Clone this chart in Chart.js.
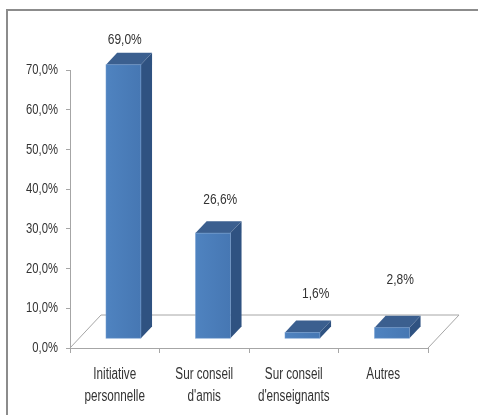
<!DOCTYPE html>
<html>
<head>
<meta charset="utf-8">
<script src="https://cdn.jsdelivr.net/npm/chart.js@4.4.1/dist/chart.umd.min.js"></script>
<style>
html,body{margin:0;padding:0;background:#fff;}
#wrap{width:478px;height:415px;position:relative;}
</style>
</head>
<body>
<div id="wrap"><canvas id="c" width="478" height="415"></canvas></div>
<script>
// ---- data ----
const categories = [["Initiative","personnelle"],["Sur conseil","d'amis"],["Sur conseil","d'enseignants"],["Autres"]];
const values = [69.0, 26.6, 1.6, 2.8];
const yTickMax = 70;
const yTickStep = 10;

const FONT = "'Liberation Sans','Arial',sans-serif";
const TEXT = '#333333';
const AXIS = '#a6a6a6';

const fmt = v => v.toFixed(1).replace('.', ',') + '%';

// condensed text (reference uses a narrow face)
function narrowText(ctx, str, x, y, size, sx, align) {
  ctx.save();
  ctx.font = size + 'px ' + FONT;
  ctx.fillStyle = TEXT;
  ctx.textAlign = align;
  ctx.textBaseline = 'middle';
  ctx.translate(x, y);
  ctx.scale(sx, 1);
  ctx.fillText(str, 0, 0);
  ctx.restore();
}

const frame3d = {
  id: 'frame3d',
  beforeDraw(chart) {
    const ctx = chart.ctx;
    ctx.save();
    ctx.fillStyle = '#fff';
    ctx.fillRect(0, 0, chart.width, chart.height);
    ctx.strokeStyle = '#8c8c8c';
    ctx.lineWidth = 2;
    ctx.beginPath();
    ctx.moveTo(7, chart.height + 2);
    ctx.lineTo(7, 10);
    ctx.lineTo(chart.width + 2, 10);
    ctx.stroke();
    const a = chart.chartArea;
    const d = chart.options.plugins.frame3d.depth;
    ctx.strokeStyle = AXIS;
    ctx.lineWidth = 1;
    ctx.beginPath();
    ctx.moveTo(a.left, a.bottom);
    ctx.lineTo(a.left + d.x, a.bottom + d.y);
    ctx.lineTo(a.right + d.x, a.bottom + d.y);
    ctx.lineTo(a.right, a.bottom);
    ctx.stroke();
    ctx.restore();
  },
  afterDraw(chart) {
    const ctx = chart.ctx;
    const o = chart.options.plugins.frame3d;
    const ys = chart.scales.y, xs = chart.scales.x;
    ys.ticks.forEach(t => {
      narrowText(ctx, fmt(t.value), ys.right - 12, ys.getPixelForValue(t.value), 15, 0.75, 'right');
    });
    categories.forEach((lab, i) => {
      const x = xs.getPixelForTick(i);
      lab.forEach((line, k) => {
        narrowText(ctx, line, x, xs.top + o.xLabelTop + k * o.xLabelLine, 16, 0.73, 'center');
      });
    });
  },
  afterDatasetsDraw(chart) {
    const o = chart.options.plugins.frame3d;
    const d = o.depth;
    const fx = d.x * o.front, fy = d.y * o.front;
    const bx = d.x * (o.back - o.front), by = d.y * (o.back - o.front);
    const ctx = chart.ctx;
    const meta = chart.getDatasetMeta(0);
    ctx.save();
    meta.data.forEach((bar, i) => {
      const p = bar.getProps(['x', 'y', 'base', 'width'], true);
      const l = p.x - p.width / 2 + fx, r = p.x + p.width / 2 + fx;
      const t = p.y + fy, b = p.base + fy;
      ctx.fillStyle = o.side;
      ctx.beginPath();
      ctx.moveTo(r, b); ctx.lineTo(r + bx, b + by); ctx.lineTo(r + bx, t + by); ctx.lineTo(r, t);
      ctx.closePath(); ctx.fill();
      ctx.fillStyle = o.top;
      ctx.beginPath();
      ctx.moveTo(l, t); ctx.lineTo(l + bx, t + by); ctx.lineTo(r + bx, t + by); ctx.lineTo(r, t);
      ctx.closePath(); ctx.fill();
      const g = ctx.createLinearGradient(l, 0, r, 0);
      g.addColorStop(0, o.frontL); g.addColorStop(1, o.frontR);
      ctx.fillStyle = g;
      ctx.fillRect(l, t, r - l, b - t);
      ctx.strokeStyle = 'rgba(120,160,210,0.6)';
      ctx.lineWidth = 0.8;
      ctx.strokeRect(l, t, r - l, b - t);
      narrowText(ctx, fmt(values[i]), p.x + o.labelDX[i], p.y + o.labelDY[i], 15, 0.8, 'center');
    });
    ctx.restore();
  }
};

new Chart(document.getElementById('c'), {
  type: 'bar',
  data: {
    labels: categories,
    datasets: [{
      data: values,
      backgroundColor: 'rgba(0,0,0,0)',
      borderWidth: 0,
      categoryPercentage: 1,
      barPercentage: 0.39
    }]
  },
  options: {
    responsive: false,
    animation: false,
    layout: { padding: { left: 0, top: 70, right: 50, bottom: 0 } },
    plugins: {
      legend: { display: false },
      tooltip: { enabled: false },
      frame3d: {
        depth: { x: 31, y: -33 },
        front: 0.28, back: 0.64,
        frontL: '#4f83c0', frontR: '#4677b3',
        side: '#2f5281', top: '#3b5f8f',
        labelDX: [10, 16, 22, 17],
        labelDY: [-34, -43, -48, -57],
        xLabelTop: 27, xLabelLine: 22
      }
    },
    scales: {
      x: {
        afterFit: s => { s.height = 67; },
        grid: { display: true, drawOnChartArea: false, drawTicks: true, tickLength: 5, color: AXIS, offset: true },
        border: { display: true, color: AXIS },
        ticks: { display: false, autoSkip: false }
      },
      y: {
        min: 0, max: yTickMax,
        afterFit: s => { s.width = 70; },
        grid: { display: true, drawOnChartArea: false, drawTicks: true, tickLength: 4, color: AXIS },
        border: { display: true, color: AXIS },
        ticks: { display: false, stepSize: yTickStep }
      }
    }
  },
  plugins: [frame3d]
});
</script>
</body>
</html>
